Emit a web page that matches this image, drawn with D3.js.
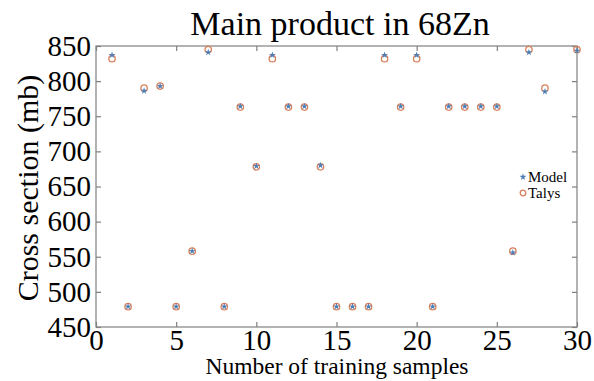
<!DOCTYPE html>
<html lang="en">
<head>
  <meta charset="UTF-8">
  <title>Main product in 68Zn</title>
  <script src="https://d3js.org/d3.v7.min.js"></script>
  <style>
    body { margin: 0; background: #fff; }
    text { font-family: "Liberation Serif", "DejaVu Serif", serif; fill: #000; }
  </style>
</head>
<body>
<svg width="594" height="381"></svg>
<script>
  // data
  var samples = [1, 2, 3, 4, 5, 6, 7, 8, 9, 10, 11, 12, 13, 14, 15, 16, 17, 18, 19, 20, 21, 22, 23, 24, 25, 26, 27, 28, 30];
  var modelValues = [837, 479, 786, 793, 479, 558, 841, 479, 764, 679, 837, 764, 764, 680, 479, 479, 479, 837, 764, 837, 479, 764, 764, 764, 764, 556, 841, 785, 843];
  var talysValues = [832, 479, 790, 793, 479, 558, 845, 479, 763, 678, 832, 763, 763, 678, 479, 479, 479, 832, 763, 832, 479, 763, 763, 763, 763, 558, 845, 790, 845];
  var xTicks = [0, 5, 10, 15, 20, 25, 30];
  var yTicks = [450, 500, 550, 600, 650, 700, 750, 800, 850];

  var svg = d3.select('svg');
  var plotL = 96, plotR = 577, plotT = 46, plotB = 327;

  var x = d3.scaleLinear().domain([0, 30]).range([plotL, plotR]);
  var y = d3.scaleLinear().domain([450, 850]).range([plotB, plotT]);

  var axisColor = '#808080';

  // box
  svg.append('rect')
    .attr('x', plotL).attr('y', plotT)
    .attr('width', plotR - plotL).attr('height', plotB - plotT)
    .attr('fill', 'none').attr('stroke', axisColor).attr('stroke-width', 1.2);

  // axes with inward ticks
  function styleAxis(g) {
    g.select('.domain').remove();
    g.selectAll('.tick line').attr('stroke', axisColor).attr('stroke-width', 1.2);
  }
  svg.append('g').attr('transform', 'translate(0,' + plotB + ')')
    .call(d3.axisBottom(x).tickValues(xTicks).tickSize(-5).tickPadding(2))
    .call(styleAxis)
    .selectAll('text').attr('font-size', 29)
    .attr('font-family', '"Liberation Serif", serif').attr('fill', '#000');
  svg.append('g').attr('transform', 'translate(0,' + plotT + ')')
    .call(d3.axisTop(x).tickValues(xTicks).tickSize(-5).tickFormat(''))
    .call(styleAxis);
  svg.append('g').attr('transform', 'translate(' + plotL + ',0)')
    .call(d3.axisLeft(y).tickValues(yTicks).tickSize(-5).tickPadding(5))
    .call(styleAxis)
    .selectAll('text').attr('font-size', 29)
    .attr('font-family', '"Liberation Serif", serif').attr('fill', '#000');
  svg.append('g').attr('transform', 'translate(' + plotR + ',0)')
    .call(d3.axisRight(y).tickValues(yTicks).tickSize(-5).tickFormat(''))
    .call(styleAxis);

  // title and labels
  svg.append('text')
    .attr('x', 340).attr('y', 35)
    .attr('text-anchor', 'middle').attr('font-size', 34)
    .text('Main product in 68Zn');
  svg.append('text')
    .attr('x', 337).attr('y', 374)
    .attr('text-anchor', 'middle').attr('font-size', 23.5)
    .text('Number of training samples');
  svg.append('text')
    .attr('transform', 'translate(38,188) rotate(-90)')
    .attr('text-anchor', 'middle').attr('font-size', 30)
    .text('Cross section (mb)');

  var modelColor = '#4f7fb5', talysColor = '#d9805a';
  var star = d3.symbol().type(d3.symbolStar).size(15);

  // Talys circles
  svg.append('g').selectAll('circle')
    .data(samples)
    .enter()
    .append('circle')
    .attr('cx', function (d) { return x(d); })
    .attr('cy', function (d, i) { return y(talysValues[i]); })
    .attr('r', 3.2)
    .attr('fill', 'none')
    .attr('stroke', talysColor)
    .attr('stroke-width', 1.3);

  // Model markers
  svg.append('g').selectAll('path')
    .data(samples)
    .enter()
    .append('path')
    .attr('d', star)
    .attr('transform', function (d, i) { return 'translate(' + x(d) + ',' + y(modelValues[i]) + ')'; })
    .attr('fill', modelColor);

  // legend
  var lg = svg.append('g').attr('transform', 'translate(523,177)');
  lg.append('path').attr('d', star).attr('fill', modelColor);
  lg.append('text').attr('x', 5).attr('y', 5).attr('font-size', 15).text('Model');
  lg.append('circle').attr('cx', 0).attr('cy', 16).attr('r', 2.8)
    .attr('fill', 'none').attr('stroke', talysColor).attr('stroke-width', 1.3);
  lg.append('text').attr('x', 5).attr('y', 21).attr('font-size', 15).text('Talys');
</script>
</body>
</html>
